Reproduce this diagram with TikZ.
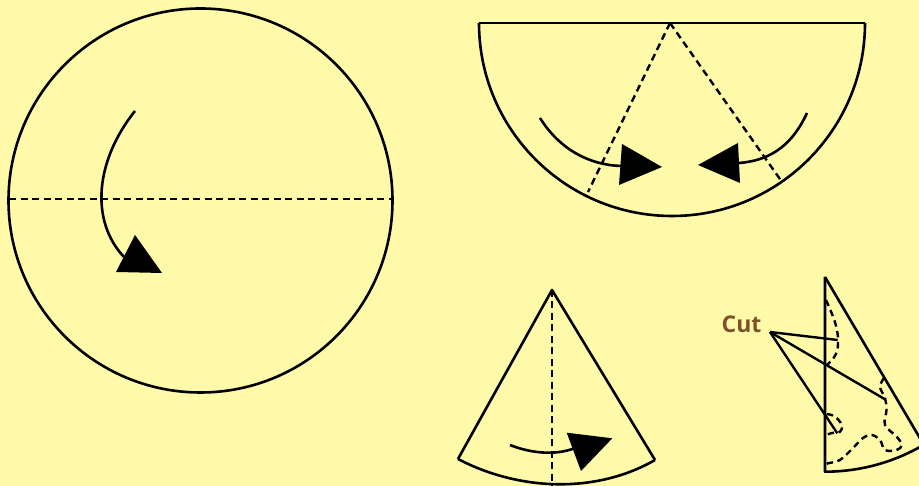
\documentclass[tikz,border=0pt]{standalone}
\usepackage{fontspec}
\newfontfamily\cutfont{Open Sans}
\definecolor{bg}{RGB}{255,249,170}
\definecolor{cutbrown}{RGB}{125,82,40}
\begin{document}
\begin{tikzpicture}[x=1pt,y=1pt,line join=round,
  solidline/.style={line width=2.6pt},
  foldline/.style={line width=2.4pt,dash pattern=on 7pt off 4.5pt},
  cutline/.style={line width=2.4pt,dash pattern=on 6.5pt off 4.5pt},
  pointer/.style={line width=2.4pt}]
\path[fill=bg,use as bounding box] (0,0) rectangle (919,486);
\clip (0,0) rectangle (919,486);

% full circle
\coordinate (c1) at (200.5,285.5);
\coordinate (f1a) at (9,287);
\coordinate (f1b) at (392,287);
\draw[solidline] (c1) circle[radius=192pt];
\draw[foldline] (f1a) -- (f1b);
\draw[solidline] (135,375) .. controls (95,325) and (90,265) .. (124,229);
\fill (135,251) -- (116,214) -- (162,213) -- cycle;

% semicircle
\coordinate (sL) at (479,463);
\coordinate (sR) at (865,463);
\coordinate (sA) at (670,463);
\draw[solidline] (sL) -- (sR);
\draw[solidline] (sL) arc[start angle=180,end angle=360,radius=193pt];
\draw[foldline] (sA) -- (588,294);
\draw[foldline] (sA) -- (782,304);
\draw[solidline] (540,368) .. controls (560,336) and (590,321) .. (621,320);
\fill (622,342) -- (619,301) -- (662,319) -- cycle;
\draw[solidline] (807,373) .. controls (790,336) and (765,325) .. (739,323);
\fill (738,343) -- (740,303) -- (698,321) -- cycle;

% cone
\coordinate (kA) at (552,196);
\coordinate (kL) at (458,27);
\coordinate (kR) at (655,26);
\draw[solidline] (kL) -- (kA) -- (kR);
\draw[solidline] (kL) .. controls (519,-5) and (596,-8) .. (kR);
\draw[foldline] (kA) -- (552,0);
\draw[solidline] (510,41) .. controls (530,33) and (555,30) .. (575,38);
\fill (566.7,53.3) -- (612.3,47.7) -- (581,15) -- cycle;

% folded cone with cuts
\coordinate (apex) at (825,209);
\draw[solidline] (apex) -- (825,14.3) arc[start angle=270,end angle=305,radius=194.7pt];
\draw[solidline] (apex) -- ++(300.5:215);
\draw[cutline] plot[smooth,tension=0.7] coordinates {(826,186) (832,172) (836,160) (838,146) (836,132) (827,121)};
\draw[cutline] plot[smooth,tension=0.6] coordinates {(884,108) (880,99) (885,88) (886.5,76) (885,61) (896.7,49.3) (901.7,41) (896.7,36) (885,36) (880,46) (871.7,51) (863,48) (853,38) (840,26) (828,22.7) (825,21)};
\draw[cutline] plot[smooth,tension=0.7] coordinates {(826.7,72) (835,69.3) (841.7,61) (840,54.3) (831.7,53) (826.7,51)};

\node[anchor=base west,inner sep=0pt,text=cutbrown,font=\cutfont\bfseries\fontsize{23}{23}\selectfont] (cut) at (721.5,153) {Cut};
\coordinate (cp) at (770,154);
\coordinate (t1) at (837.7,146);
\coordinate (t2) at (885,86.7);
\coordinate (t3) at (837.3,52.7);
\draw[pointer] (cp) -- (t1);
\draw[pointer] (cp) -- (t2);
\draw[pointer] (cp) -- (t3);
\end{tikzpicture}
\end{document}
